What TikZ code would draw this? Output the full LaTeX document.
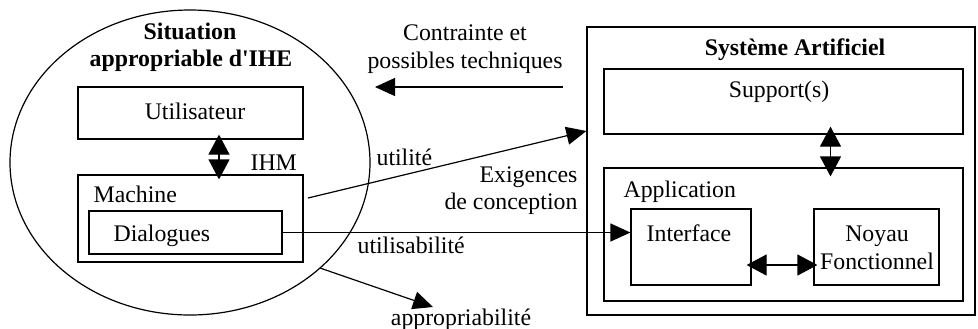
\documentclass[tikz,border=0pt]{standalone}
\usepackage{fontspec}
\setmainfont{Liberation Serif}[Ligatures=TeXOff]
\usetikzlibrary{arrows.meta,shapes.geometric,fit,calc}
\begin{document}
\begin{tikzpicture}[x=0.5pt,y=-0.5pt, line width=0.6pt,
 every node/.style={font=\fontsize{11.9}{14}\selectfont},
 box/.style={draw, inner sep=0pt},
 txt/.style={inner sep=0pt, anchor=base},
 sarr/.style={-{Triangle[length=10pt,width=9pt]}},
 darr/.style={{Triangle[length=10pt,width=10.5pt]}-{Triangle[length=10pt,width=10.5pt]}}]
\useasboundingbox (0,0) rectangle (978,328);

% left ellipse
\node[draw, ellipse, inner sep=0pt, minimum width=180pt, minimum height=152.5pt] (sit) at (190,162.5) {};
\node[txt, font=\fontsize{11.9}{14}\selectfont\bfseries] (t1) at (190,39) {Situation};
\node[txt, font=\fontsize{11.9}{14}\selectfont\bfseries] (t2) at (191,66.5) {appropriable d'IHE};

\node[box, fit={(78,87)(303,139)}] (u) {};
\node[txt] (ut) at (195,119) {Utilisateur};
\node[box, fit={(78,175)(303,262)}] (m) {};
\node[txt, anchor=base west] (mt) at (93,202) {Machine};
\node[box, fit={(89,211)(282,254)}] (d) {};
\node[txt, anchor=base west] (dt) at (113,241) {Dialogues};
\node[txt, anchor=base west] (ihmt) at (250,170) {IHM};

% right system
\node[box, fit={(587,27)(975,315)}] (sa) {};
\node[txt, font=\fontsize{11.9}{14}\selectfont\bfseries] (sat) at (795,55) {Système Artificiel};
\node[box, fit={(604,69)(963,134)}] (sp) {};
\node[txt] (spt) at (779,97) {Support(s)};
\node[box, fit={(604,168)(963,301)}] (ap) {};
\node[txt, anchor=base west] (apt) at (623,197) {Application};
\node[box, fit={(631,209)(751,285)}] (if) {};
\node[txt] (ift) at (689,241) {Interface};
\node[box, fit={(814,209)(939,285)}] (ny) {};
\node[txt] (nyt1) at (877,241) {Noyau};
\node[txt] (nyt2) at (877,269) {Fonctionnel};

% labels
\node[txt] (l1) at (465,40.5) {Contrainte et};
\node[txt] (l2) at (465,68) {possibles techniques};
\node[txt, anchor=base west] (l3) at (376,165) {utilité};
\node[txt, anchor=base east] (l4) at (578,182) {Exigences};
\node[txt, anchor=base east] (l5) at (578,209) {de conception};
\node[txt, anchor=base west] (l6) at (357,253) {utilisabilité};
\node[txt] (l7) at (461,325) {appropriabilité};

% connectors
\coordinate (ihm) at (219,150);
\draw[darr, shorten <=-2.5pt, shorten >=-2.5pt] (u.south -| ihm) -- (m.north -| ihm);
\coordinate (cs) at (563,87);
\coordinate (ce) at (375,87);
\draw[sarr] (cs) -- (ce);
\coordinate (us) at (308,198);
\coordinate (ue) at (0,131);
\draw[sarr] (us) -- (sa.west |- ue);
\draw[sarr] (d.east) -- (if.west |- d.east);
\coordinate (as) at (320,268);
\coordinate (ae) at (433,307);
\draw[sarr] (as) -- (ae);
\coordinate (sx) at (830.5,150);
\draw[darr, shorten <=-4pt, shorten >=-4.5pt] (sp.south -| sx) -- (ap.north -| sx);
\coordinate (iy) at (780,265);
\draw[darr, shorten <=-2.5pt, shorten >=-2pt] (if.east |- iy) -- (ny.west |- iy);
\end{tikzpicture}
\end{document}
